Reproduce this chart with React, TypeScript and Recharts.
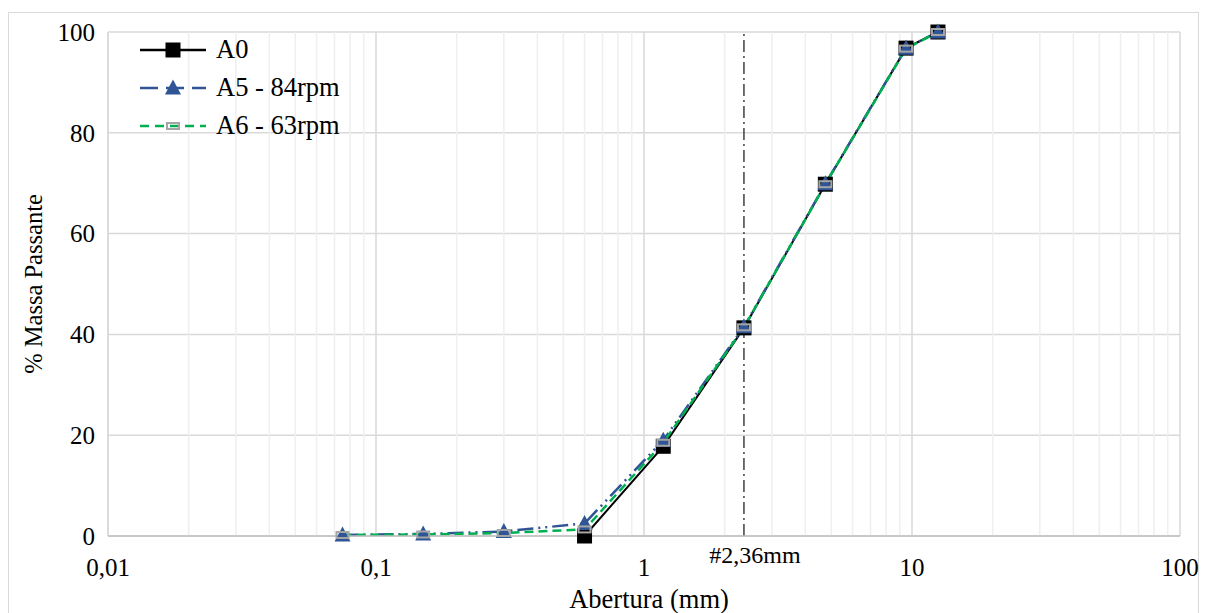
import React from 'react';
import { LineChart, Line, XAxis, YAxis, CartesianGrid, ReferenceLine, Label } from 'recharts';

// sieve openings (mm) and % passing for each sample
const sieveSizes = [0.075, 0.15, 0.3, 0.6, 1.18, 2.36, 4.75, 9.5, 12.5];
const a0Values = [null, null, null, 0, 17.8, 41.3, 69.8, 96.8, 100];
const a5Values = [0.2, 0.4, 0.9, 2.5, 19.0, 41.5, 69.9, 96.8, 100];
const a6Values = [0.2, 0.3, 0.6, 1.3, 18.5, 41.4, 69.8, 96.7, 100];

const xTicks = [0.01, 0.1, 1, 10, 100];
const yTicks = [0, 20, 40, 60, 80, 100];
const decades = [0.01, 0.1, 1, 10];
const minorMultipliers = [2, 3, 4, 5, 6, 7, 8, 9];
const markLine = 2.36;

const FONT = '"Liberation Serif", "Times New Roman", serif';
const BLUE = '#2F5597';
const GREEN = '#00B050';
const GREY = '#A5A5A5';

const data = sieveSizes.map((size, i) => ({
  size,
  a0: a0Values[i],
  a5: a5Values[i],
  a6: a6Values[i],
}));

const minorLines = decades.flatMap(d => minorMultipliers.map(m => +(d * m).toPrecision(3)));

const fmt = (v: number) => String(v).replace('.', ',');

function SquareDot(props: any) {
  const { cx, cy, index } = props;
  if (cx == null || cy == null || props.value == null) return <g key={`s${index}`} />;
  return <rect key={`s${index}`} x={cx - 7.5} y={cy - 7.5} width={15} height={15} fill="#000" />;
}

function TriangleDot(props: any) {
  const { cx, cy, index } = props;
  if (cx == null || cy == null) return <g key={`t${index}`} />;
  return <path key={`t${index}`} d={`M${cx},${cy - 8.5} L${cx + 8},${cy + 6.5} L${cx - 8},${cy + 6.5} Z`} fill={BLUE} />;
}

function DashDot(props: any) {
  const { cx, cy, index } = props;
  if (cx == null || cy == null) return <g key={`d${index}`} />;
  return <rect key={`d${index}`} x={cx - 6} y={cy - 3} width={12} height={6} fill="none" stroke={GREY} strokeWidth={2} />;
}

const legendItems = [
  { name: 'A0', color: '#000', dash: undefined, marker: 'square' },
  { name: 'A5 - 84rpm', color: BLUE, dash: '18 8', marker: 'triangle' },
  { name: 'A6 - 63rpm', color: GREEN, dash: '9 6', marker: 'dash' },
];

function LegendBox() {
  return (
    <svg width={280} height={130} style={{ display: 'block', overflow: 'visible' }}>
      {legendItems.map((it, i) => {
        const y = 14 + i * 38;
        const mx = 33;
        return (
          <g key={it.name}>
            <line x1={0} x2={66} y1={y} y2={y} stroke={it.color} strokeWidth={2.5} strokeDasharray={it.dash} />
            {it.marker === 'square' && <rect x={mx - 7.5} y={y - 7.5} width={15} height={15} fill="#000" />}
            {it.marker === 'triangle' && <path d={`M${mx},${y - 8.5} L${mx + 8},${y + 6.5} L${mx - 8},${y + 6.5} Z`} fill={BLUE} />}
            {it.marker === 'dash' && <rect x={mx - 6} y={y - 3} width={12} height={6} fill="none" stroke={GREY} strokeWidth={2} />}
            <text x={76} y={y + 8} fontFamily={FONT} fontSize={26.5} fill="#000">{it.name}</text>
          </g>
        );
      })}
    </svg>
  );
}

export default function App() {
  return (
    <div style={{ position: 'fixed', left: 0, top: 0, width: 1206, height: 613, background: '#fff', overflow: 'hidden' }}>
      <div style={{ position: 'absolute', left: 8, top: 12, width: 1189, height: 620, border: '1.5px solid #d9d9d9' }} />
      <div style={{ position: 'absolute', left: 0, top: 0 }}>
        <LineChart width={1206} height={613} data={data} margin={{ top: 32, right: 26, left: 48, bottom: 47 }}>
          <CartesianGrid stroke="#d9d9d9" strokeWidth={1.5} />
          {minorLines.map(v => (
            <ReferenceLine key={v} x={v} stroke="#efefef" strokeWidth={1.5} />
          ))}
          <XAxis
            dataKey="size"
            type="number"
            scale="log"
            domain={[0.01, 100]}
            ticks={xTicks}
            allowDataOverflow
            tickFormatter={fmt}
            axisLine={{ stroke: '#bfbfbf', strokeWidth: 1.5 }}
            tickLine={false}
            tickSize={0}
            tickMargin={22}
            height={30}
            tick={{ fontFamily: FONT, fontSize: 25, fill: '#000' }}
          >
            <Label
              content={({ viewBox }: any) => (
                <text x={viewBox.x + viewBox.width / 2 + 5} y={viewBox.y + 72} textAnchor="middle" fontFamily={FONT} fontSize={26.5} fill="#000">
                  Abertura (mm)
                </text>
              )}
            />
          </XAxis>
          <YAxis
            type="number"
            domain={[0, 100]}
            ticks={yTicks}
            axisLine={{ stroke: '#d9d9d9', strokeWidth: 1.5 }}
            tickLine={false}
            tickSize={0}
            tickMargin={13}
            width={60}
            tick={{ fontFamily: FONT, fontSize: 25, fill: '#000' }}
          >
            <Label
              content={({ viewBox }: any) => {
                const cx = 33;
                const cy = viewBox.y + viewBox.height / 2;
                return (
                  <text x={cx} y={cy} transform={`rotate(-90 ${cx} ${cy})`} textAnchor="middle" dominantBaseline="central" fontFamily={FONT} fontSize={24.5} fill="#000">
                    % Massa Passante
                  </text>
                );
              }}
            />
          </YAxis>
          <ReferenceLine
            x={markLine}
            stroke="#404040"
            strokeWidth={1.5}
            strokeDasharray="12 4 2 4"
            label={{
              content: ({ viewBox }: any) => (
                <text x={viewBox.x + 11} y={viewBox.y + viewBox.height + 27} textAnchor="middle" fontFamily={FONT} fontSize={24} fill="#000">
                  #2,36mm
                </text>
              ),
            }}
          />
          <Line dataKey="a0" name="A0" stroke="#000" strokeWidth={2} dot={SquareDot} activeDot={false} isAnimationActive={false} />
          <Line dataKey="a5" name="A5 - 84rpm" stroke={BLUE} strokeWidth={2.5} strokeDasharray="16 5 2 5 2 5" dot={TriangleDot} activeDot={false} isAnimationActive={false} />
          <Line dataKey="a6" name="A6 - 63rpm" stroke={GREEN} strokeWidth={2.5} strokeDasharray="9 5" dot={DashDot} activeDot={false} isAnimationActive={false} />
        </LineChart>
      </div>
      <div style={{ position: 'absolute', left: 140, top: 36 }}>
        <LegendBox />
      </div>
    </div>
  );
}
